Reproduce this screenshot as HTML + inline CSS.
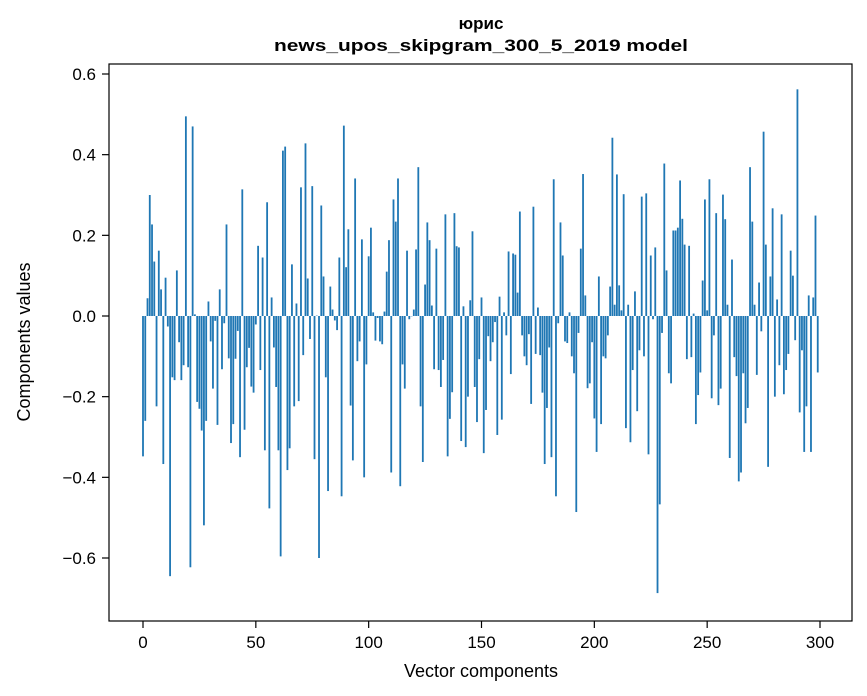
<!DOCTYPE html>
<html><head><meta charset="utf-8"><style>
body{margin:0;background:#fff;}
svg{display:block;font-family:"Liberation Sans","DejaVu Sans",sans-serif;}
</style></head><body>
<svg id="chart" width="867" height="696" viewBox="0 0 867 696">
<rect width="867" height="696" fill="#fff"/>
<text x="481" y="29" font-size="17" font-weight="bold" text-anchor="middle">юрис</text>
<text x="481" y="51" font-size="17" font-weight="bold" text-anchor="middle" textLength="414" lengthAdjust="spacingAndGlyphs">news_upos_skipgram_300_5_2019 model</text>
<g id="bars"></g>
<g id="yticks"></g>
<g id="xticks"></g>
<rect x="109" y="64" width="743" height="557" fill="none" stroke="#000" stroke-width="1.2"/>
<text x="481" y="677" font-size="18" text-anchor="middle">Vector components</text>
<text transform="translate(30,342) rotate(-90)" font-size="18" text-anchor="middle">Components values</text>
</svg>
<script>
const values = [
-0.348,-0.26,0.044,0.30,0.227,0.135,-0.224,0.162,0.066,-0.367,
0.095,-0.026,-0.645,-0.152,-0.159,0.113,-0.065,-0.159,-0.122,0.495,
-0.127,-0.623,0.47,0.004,-0.213,-0.23,-0.284,-0.519,-0.26,0.036,
-0.063,-0.18,-0.012,-0.27,0.066,-0.132,-0.018,0.227,-0.105,-0.315,
-0.268,-0.106,-0.037,-0.35,0.314,-0.282,-0.127,-0.079,-0.175,-0.19,
-0.021,0.174,-0.134,0.145,-0.333,0.282,-0.477,0.046,-0.078,-0.176,
-0.333,-0.596,0.41,0.42,-0.382,-0.328,0.128,-0.224,0.031,-0.211,
0.319,-0.097,0.428,0.093,-0.057,0.322,-0.355,0.001,-0.60,0.274,
0.098,-0.152,-0.434,0.073,0.016,-0.011,-0.035,0.145,-0.447,0.472,
0.121,0.215,-0.222,-0.358,0.341,-0.112,-0.063,0.19,-0.4,-0.12,
0.148,0.219,0.009,-0.061,-0.005,-0.063,-0.07,0.011,0.11,0.188,
-0.388,0.289,0.234,0.341,-0.422,-0.12,-0.18,0.162,-0.008,0.0,
0.016,0.165,0.369,-0.224,-0.362,0.078,0.232,0.188,0.026,-0.132,
0.167,-0.134,-0.176,-0.109,0.252,-0.348,-0.255,-0.189,0.255,0.173,
0.17,-0.31,0.024,-0.325,-0.2,0.039,0.21,-0.176,-0.263,-0.107,
0.046,-0.34,-0.233,-0.05,-0.112,-0.065,-0.015,-0.295,0.048,-0.257,
0.009,-0.048,0.16,-0.144,0.155,0.152,0.058,0.259,-0.048,-0.1,
-0.122,-0.045,-0.218,0.271,-0.094,0.021,-0.097,-0.19,-0.367,-0.228,
-0.078,-0.35,0.339,-0.447,-0.018,0.232,0.15,-0.063,-0.067,0.009,
-0.1,-0.142,-0.486,-0.042,0.167,0.352,0.051,-0.179,-0.167,-0.065,
-0.254,-0.337,0.098,-0.268,-0.1,-0.105,-0.048,0.073,0.442,0.028,
0.351,0.076,0.014,0.302,-0.278,0.028,-0.313,-0.134,0.061,-0.236,
-0.085,0.296,-0.1,0.304,-0.343,0.15,-0.008,0.17,-0.687,-0.467,
-0.042,0.378,0.113,-0.142,-0.167,0.212,0.212,0.219,0.336,0.241,
0.177,-0.107,0.174,-0.102,0.006,-0.268,-0.196,-0.14,0.088,0.289,
0.014,0.339,-0.204,-0.048,0.255,-0.221,-0.18,0.301,0.24,0.028,
-0.352,0.14,-0.102,-0.149,-0.41,-0.388,-0.142,-0.266,-0.228,0.369,
0.234,0.028,-0.146,0.083,-0.038,0.457,0.177,-0.374,0.098,0.267,
-0.2,0.041,-0.122,0.252,-0.194,-0.134,-0.094,0.162,0.1,-0.06,
0.562,-0.239,-0.085,-0.337,-0.224,0.051,-0.337,0.046,0.249,-0.14
];
const yTickValues = [-0.6,-0.4,-0.2,0.0,0.2,0.4,0.6];
const yTickLabels = ["\u22120.6","\u22120.4","\u22120.2","0.0","0.2","0.4","0.6"];
const xTickValues = [0,50,100,150,200,250,300];
const xTickLabels = ["0","50","100","150","200","250","300"];

const NS = "http://www.w3.org/2000/svg";
const xScale = v => 143 + v * (677 / 300);
const yScale = v => 316 - v * (242 / 0.6);
const unit = 677 / 300;

const gb = document.getElementById('bars');
values.forEach((v, i) => {
  const r = document.createElementNS(NS, 'rect');
  
  
  const y0 = yScale(0), y1 = yScale(v);
  r.setAttribute('x', xScale(i) - 0.4 * unit);
  r.setAttribute('width', 0.8 * unit);
  r.setAttribute('y', Math.min(y0, y1));
  r.setAttribute('height', Math.max(Math.abs(y1 - y0), 0.3));
  r.setAttribute('fill', '#1f77b4');
  gb.appendChild(r);
});

const gy = document.getElementById('yticks');
yTickValues.forEach((v, i) => {
  const y = yScale(v);
  const l = document.createElementNS(NS, 'line');
  
  
  l.setAttribute('x1', 102); l.setAttribute('x2', 109);
  l.setAttribute('y1', y); l.setAttribute('y2', y);
  l.setAttribute('stroke', '#000'); l.setAttribute('stroke-width', '1.2');
  gy.appendChild(l);
  const t = document.createElementNS(NS, 'text');
  
  
  t.setAttribute('x', 96); t.setAttribute('y', y + 6);
  t.setAttribute('font-size', '17'); t.setAttribute('text-anchor', 'end');
  t.textContent = yTickLabels[i];
  gy.appendChild(t);
});

const gx = document.getElementById('xticks');
xTickValues.forEach((v, i) => {
  const x = xScale(v);
  const l = document.createElementNS(NS, 'line');
  
  
  l.setAttribute('x1', x); l.setAttribute('x2', x);
  l.setAttribute('y1', 621); l.setAttribute('y2', 628);
  l.setAttribute('stroke', '#000'); l.setAttribute('stroke-width', '1.2');
  gx.appendChild(l);
  const t = document.createElementNS(NS, 'text');
  
  
  t.setAttribute('x', x); t.setAttribute('y', 648);
  t.setAttribute('font-size', '17'); t.setAttribute('text-anchor', 'middle');
  t.textContent = xTickLabels[i];
  gx.appendChild(t);
});
</script>
</body></html>
